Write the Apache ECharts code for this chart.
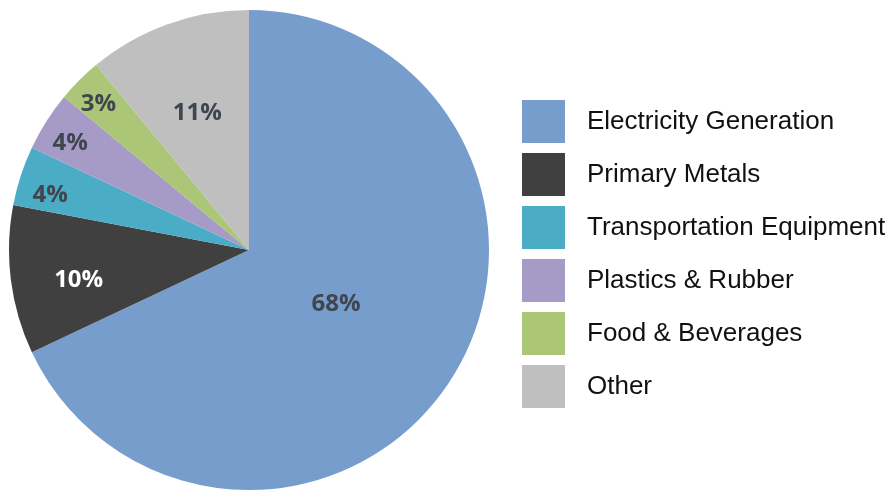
<!DOCTYPE html>
<html>
<head>
<meta charset="utf-8">
<script src="https://cdn.jsdelivr.net/npm/echarts@6/dist/echarts.min.js"></script>
<style>
  html, body { margin: 0; padding: 0; background: #ffffff; }
  #chart { width: 894px; height: 491px; }
</style>
</head>
<body>
<div id="chart"></div>
<script>
// Energy use by sector (percent share)
const categories = [
  'Electricity Generation',
  'Primary Metals',
  'Transportation Equipment',
  'Plastics & Rubber',
  'Food & Beverages',
  'Other'
];
const shares = [68, 10, 4, 4, 3, 11];

// Slice fills and label styling
const sliceColors = ['#779dcc', '#404040', '#4bacc6', '#a69ac6', '#abc676', '#bfbfbf'];
const labelColors = ['#3f4650', '#ffffff', '#3f4650', '#3f4650', '#3f4650', '#3f4650'];
// Label placement in polar terms: radius as a fraction of the pie radius,
// and a small angular nudge (degrees) from the slice's middle
const labelRadius = [0.425, 0.72, 0.86, 0.87, 0.875, 0.615];
const labelNudge = [-1, -2.5, -2.4, -1.3, -0.8, -0.7];

const CX = 249, CY = 250, R = 240;
const GLYPH_DY = 1; // bold digits sit slightly high in their text box

// middle angle of every slice, clockwise from 12 o'clock
const total = shares.reduce((a, b) => a + b, 0);
const midAngles = [];
shares.reduce((acc, v) => { midAngles.push((acc + v / 2) / total * 360); return acc + v; }, 0);

const chart = echarts.init(document.getElementById('chart'), null, { renderer: 'canvas' });

chart.setOption({
  animation: false,
  backgroundColor: '#ffffff',
  legend: {
    orient: 'vertical',
    left: 522,
    top: 100,
    padding: 0,
    itemWidth: 43,
    itemHeight: 43,
    itemGap: 10,
    icon: 'rect',
    selectedMode: false,
    textStyle: {
      fontFamily: 'Liberation Sans, Arial, sans-serif',
      fontSize: 26,
      color: '#111111',
      padding: [4, 0, 0, 17]
    },
    data: categories
  },
  series: [{
    type: 'pie',
    center: [CX, CY],
    radius: [0, R],
    startAngle: 90,
    clockwise: true,
    avoidLabelOverlap: false,
    emphasis: { disabled: true },
    itemStyle: { borderWidth: 0 },
    label: {
      show: true,
      position: 'inside',
      formatter: '{c}%',
      fontFamily: 'Open Sans, sans-serif',
      fontWeight: 'bold',
      fontSize: 24
    },
    labelLine: { show: false },
    labelLayout: function (p) {
      const i = p.dataIndex;
      const a = (midAngles[i] + labelNudge[i]) * Math.PI / 180;
      const r = labelRadius[i] * R;
      return { x: CX + r * Math.sin(a), y: CY - r * Math.cos(a) + GLYPH_DY };
    },
    data: categories.map((name, i) => ({
      name: name,
      value: shares[i],
      itemStyle: { color: sliceColors[i] },
      label: { color: labelColors[i] }
    }))
  }]
});
</script>
</body>
</html>
